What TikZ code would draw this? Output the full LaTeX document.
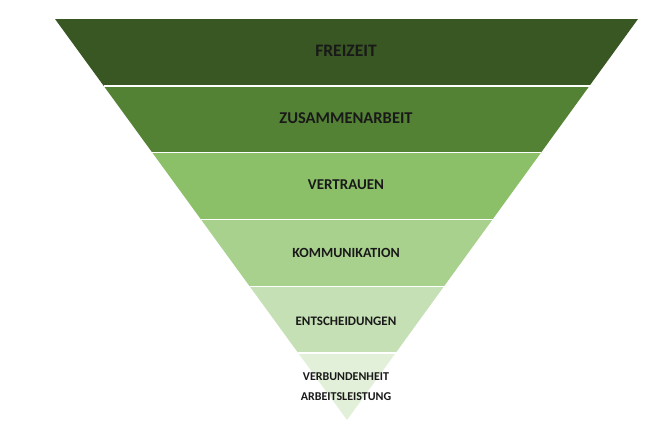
\documentclass[tikz,border=0pt]{standalone}
\usepackage{fontspec}
\setmainfont{Carlito}
\usetikzlibrary{calc}

\definecolor{lvlA}{HTML}{385723}
\definecolor{lvlB}{HTML}{548235}
\definecolor{lvlC}{HTML}{8BBF68}
\definecolor{lvlD}{HTML}{A9D18E}
\definecolor{lvlE}{HTML}{C5E0B4}
\definecolor{lvlF}{HTML}{E2F0D9}

\begin{document}
\begin{tikzpicture}[x=1pt, y=-1pt,
  sep/.style={draw=white, line width=1.6pt},
  lbl/.style={font=\bfseries, text=black!90, align=center, inner sep=0pt}
]
\useasboundingbox (0,0) rectangle (652,434);

\coordinate (tl)   at (55,19);
\coordinate (tr)   at (638,19);
\coordinate (apex) at (347,420);

% funnel bands
\foreach \i/\col in {0/lvlA, 1/lvlB, 2/lvlC, 3/lvlD, 4/lvlE, 5/lvlF} {
  \pgfmathsetmacro\ta{\i/6}
  \pgfmathsetmacro\tb{(\i+1)/6}
  \fill[\col] ($(tl)!\ta!(apex)$) -- ($(tr)!\ta!(apex)$)
    -- ($(tr)!\tb!(apex)$) -- ($(tl)!\tb!(apex)$) -- cycle;
}

% white separators
\foreach \i in {1,...,5} {
  \pgfmathsetmacro\ta{\i/6}
  \draw[sep] ($(tl)!\ta!(apex)$) -- ($(tr)!\ta!(apex)$);
}

\node[lbl, font=\bfseries\fontsize{17.5}{20}\selectfont] (freizeit)  at (346,51)  {FREIZEIT};
\node[lbl, font=\bfseries\fontsize{16.5}{19}\selectfont] (zusammen)  at (346,118) {ZUSAMMENARBEIT};
\node[lbl, font=\bfseries\fontsize{15}{18}\selectfont] (vertrauen) at (346,185) {VERTRAUEN};
\node[lbl, font=\bfseries\fontsize{14}{17}\selectfont] (komm)      at (346,253) {KOMMUNIKATION};
\node[lbl, font=\bfseries\fontsize{13}{15}\selectfont] (entsch)    at (346,321) {ENTSCHEIDUNGEN};
\node[lbl, font=\bfseries\fontsize{12}{20}\selectfont] (verbund)   at (346,387) {VERBUNDENHEIT\\ARBEITSLEISTUNG};

\end{tikzpicture}
\end{document}
